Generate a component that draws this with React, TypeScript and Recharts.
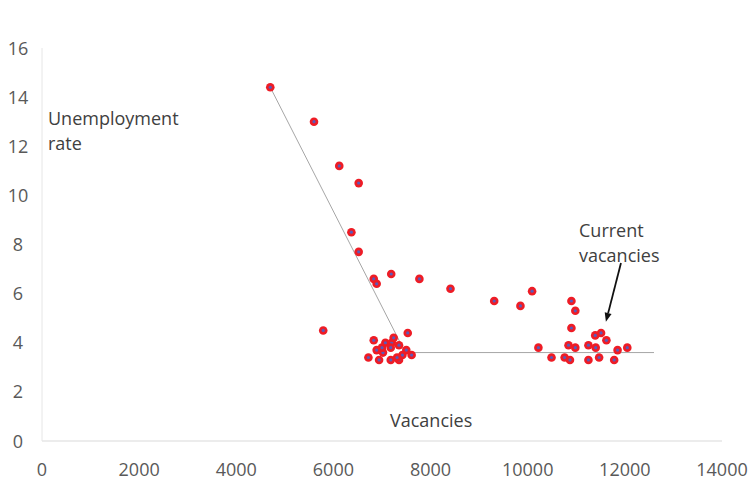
import React from 'react'
import { ComposedChart, Scatter, XAxis, YAxis, ReferenceLine } from 'recharts'

// Vacancies vs unemployment rate, one point per period
const vacancies = [
  4700, 5600, 6120, 6520, 6370, 6520, 6830, 6890, 7190, 7770, 8410, 9310, 9850, 10090, 10900, 10980, 10900, 5790,
  6830, 7530, 6720, 6940, 6890, 7020, 7000, 7070, 7200, 7240, 7180, 7350, 7420, 7500, 7610, 7180, 7350, 7310,
  10220, 10490, 10760, 10870, 10840, 10980, 11250, 11400, 11250, 11470, 11780, 11390, 11510, 11620, 11850, 12050,
]
const unemployment = [
  14.4, 13.0, 11.2, 10.5, 8.5, 7.7, 6.6, 6.4, 6.8, 6.6, 6.2, 5.7, 5.5, 6.1, 5.7, 5.3, 4.6, 4.5,
  4.1, 4.4, 3.4, 3.3, 3.7, 3.6, 3.8, 4.0, 4.0, 4.2, 3.8, 3.9, 3.5, 3.7, 3.5, 3.3, 3.3, 3.4,
  3.8, 3.4, 3.4, 3.3, 3.9, 3.8, 3.9, 3.8, 3.3, 3.4, 3.3, 4.3, 4.4, 4.1, 3.7, 3.8,
]

// guide line with a kink
const guideX = [4700, 7480, 12600]
const guideY = [14.4, 3.6, 3.6]

// arrow pointing at current vacancies
const arrowFrom = { x: 11920, y: 7.25 }
const arrowTo = { x: 11610, y: 4.85 }

const xTicks = [0, 2000, 4000, 6000, 8000, 10000, 12000, 14000]
const yTicks = [0, 2, 4, 6, 8, 10, 12, 14, 16]

const points = vacancies.map((v, i) => ({ x: v, y: unemployment[i] }))
const guide = guideX.map((v, i) => ({ x: v, y: guideY[i] }))

const FONT = '"Open Sans", "Liberation Sans", sans-serif'
const TEXT = '#404040'

const Dot = (props: any) => {
  const { cx, cy } = props
  if (cx == null || cy == null) return null
  return (
    <g>
      <circle cx={cx} cy={cy} r={4.3} fill="#ee1c25" />
      <circle cx={cx} cy={cy} r={1.6} fill="#5a5ab8" />
    </g>
  )
}

const XTick = (props: any) => {
  const { x, y, payload } = props
  return (
    <text x={x} y={y + 27} textAnchor="middle" fontSize={18} fill="#595959" fontFamily={FONT}>
      {payload.value}
    </text>
  )
}

const YTick = (props: any) => {
  const { y, payload } = props
  return (
    <text x={18} y={y + 6.5} textAnchor="middle" fontSize={18} fill="#595959" fontFamily={FONT}>
      {payload.value}
    </text>
  )
}

const Arrow = (props: any) => {
  const { x1, y1, x2, y2 } = props
  if (x1 == null) return null
  const ang = Math.atan2(y2 - y1, x2 - x1)
  const len = 9
  const w = 3.5
  const bx = x2 - len * Math.cos(ang)
  const by = y2 - len * Math.sin(ang)
  const px = -Math.sin(ang) * w
  const py = Math.cos(ang) * w
  return (
    <g>
      <line x1={x1} y1={y1} x2={bx} y2={by} stroke="#111" strokeWidth={1.8} />
      <polygon points={`${x2},${y2} ${bx + px},${by + py} ${bx - px},${by - py}`} fill="#111" />
    </g>
  )
}

const labelStyle: React.CSSProperties = {
  position: 'absolute',
  fontFamily: FONT,
  fontSize: 18,
  color: TEXT,
  lineHeight: '25px',
  whiteSpace: 'nowrap',
}

export default function App() {
  return (
    <div style={{ position: 'relative', width: 748, height: 498, background: '#fff' }}>
      <style>{'body{margin:0}'}</style>
      <ComposedChart width={748} height={498} margin={{ top: 48, right: 26, bottom: 17, left: 0 }}>
        <XAxis
          type="number"
          dataKey="x"
          domain={[0, 14000]}
          ticks={xTicks}
          tick={<XTick />}
          tickLine={false}
          axisLine={{ stroke: '#d9d9d9' }}
          height={40}
          allowDataOverflow
        />
        <YAxis
          type="number"
          dataKey="y"
          domain={[0, 16]}
          ticks={yTicks}
          tick={<YTick />}
          tickLine={false}
          axisLine={{ stroke: '#e6e6e6' }}
          width={42}
        />
        <Scatter
          data={guide}
          line={{ stroke: '#a6a6a6', strokeWidth: 1 }}
          shape={() => null}
          isAnimationActive={false}
        />
        <Scatter data={points} shape={<Dot />} isAnimationActive={false} />
        <ReferenceLine
          segment={[arrowFrom, arrowTo]}
          shape={<Arrow />}
          ifOverflow="visible"
        />
      </ComposedChart>
      <div style={{ ...labelStyle, left: 48, top: 106 }}>
        Unemployment
        <br />
        rate
      </div>
      <div style={{ ...labelStyle, left: 390, top: 408 }}>Vacancies</div>
      <div style={{ ...labelStyle, left: 579, top: 218 }}>
        Current
        <br />
        vacancies
      </div>
    </div>
  )
}
